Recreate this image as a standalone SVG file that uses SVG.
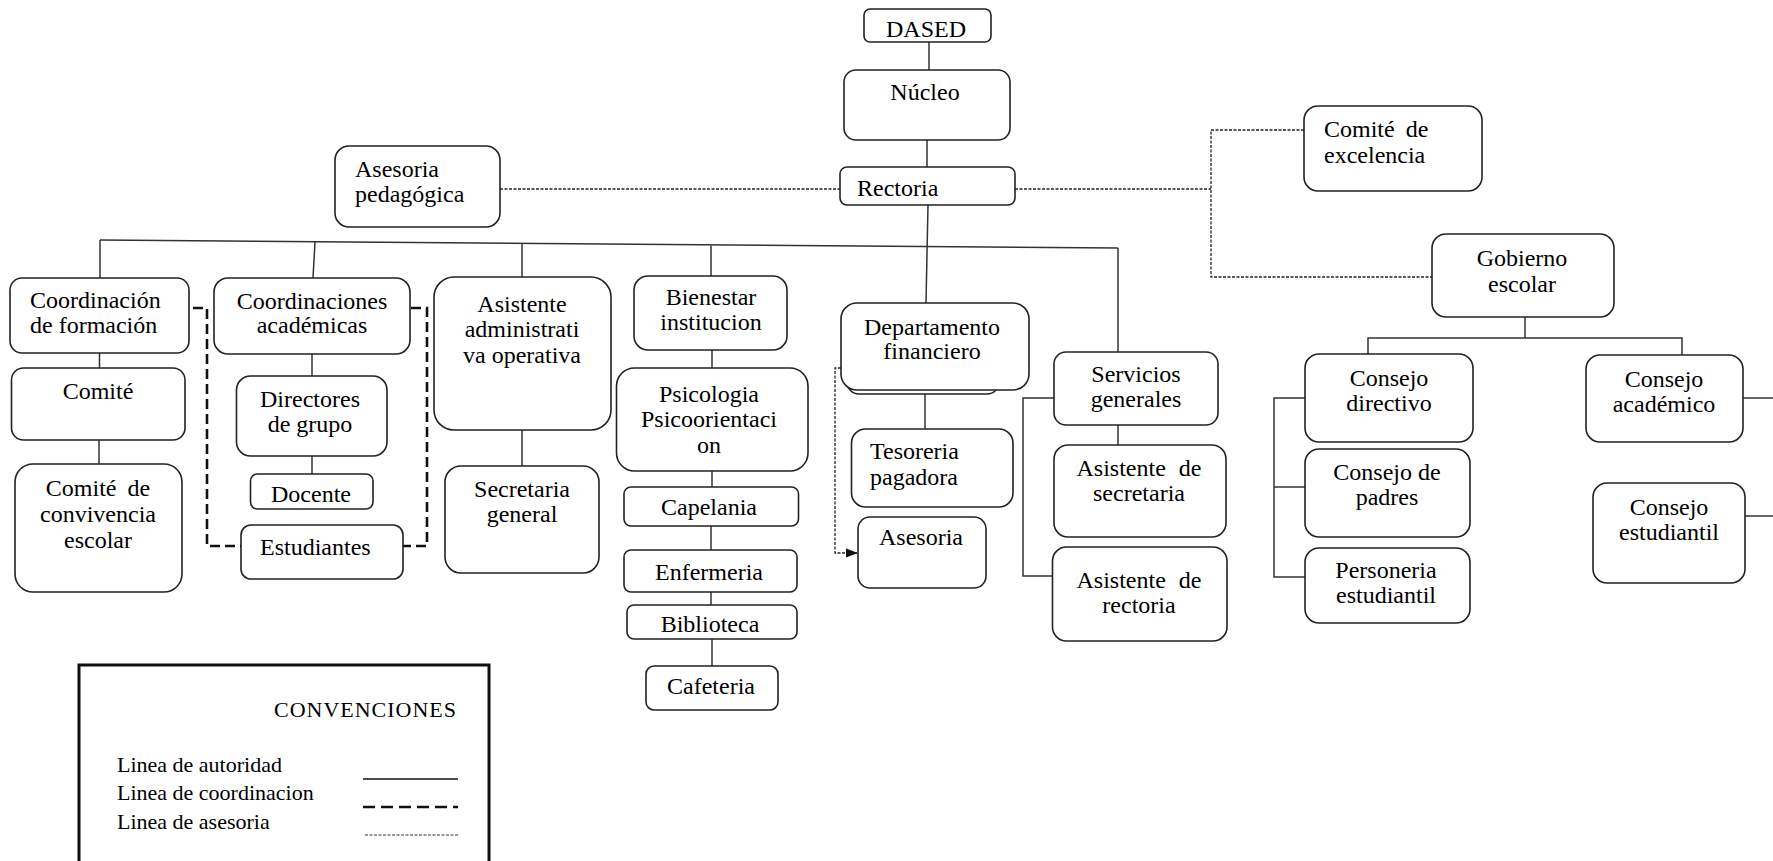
<svg xmlns="http://www.w3.org/2000/svg" width="1773" height="861" viewBox="0 0 1773 861">
<defs>
<style>
.n{fill:#fff;stroke:#222;stroke-width:1.6}
.t{font-family:"Liberation Serif","Times New Roman",serif;font-size:24px;fill:#000}
.m{text-anchor:middle}
.s{fill:none;stroke:#333;stroke-width:1.5}
.a{fill:none;stroke:#222;stroke-width:1.3;stroke-dasharray:3 1.5}
.c{fill:none;stroke:#111;stroke-width:2.6;stroke-dasharray:10 5}
.lg{font-family:"Liberation Serif","Times New Roman",serif;font-size:22px;fill:#000}
</style>
<marker id="arr" markerWidth="12" markerHeight="12" refX="11" refY="6" orient="auto" markerUnits="userSpaceOnUse">
<path d="M0,1.5 L12,6 L0,10.5 Z" fill="#111"/>
</marker>
</defs>
<rect width="1773" height="861" fill="#fff"/>

<g id="connectors">
<line class="s" x1="100" y1="240" x2="1118" y2="248"/>
<line class="s" x1="100" y1="240" x2="100" y2="278"/>
<line class="s" x1="315" y1="242" x2="313" y2="278"/>
<line class="s" x1="522" y1="244" x2="522" y2="277"/>
<line class="s" x1="711" y1="245.5" x2="711" y2="276"/>
<line class="s" x1="929" y1="42" x2="929" y2="70"/>
<line class="s" x1="927" y1="140" x2="927" y2="167"/>
<line class="s" x1="928" y1="205" x2="926" y2="303"/>
<line class="s" x1="1118" y1="248" x2="1118" y2="352"/>
<path class="a" d="M500,189 H840"/>
<path class="a" d="M1015,189 H1211"/>
<path class="a" d="M1304,130 H1211 V277 H1432"/>
<line class="s" x1="1525" y1="317" x2="1525" y2="338"/>
<path class="s" d="M1368,354 V338 H1682 V355"/>
<line class="s" x1="1743" y1="398" x2="1773" y2="398"/>
<line class="s" x1="1745" y1="516" x2="1773" y2="516"/>
<path class="s" d="M1305,398 H1274 V577 H1305 M1274,487 H1305"/>
<line class="s" x1="99.5" y1="353" x2="99.5" y2="368"/>
<line class="s" x1="99" y1="440" x2="99" y2="464"/>
<line class="s" x1="312" y1="354" x2="312" y2="376"/>
<line class="s" x1="312" y1="456" x2="312" y2="474"/>
<line class="s" x1="522" y1="430" x2="522" y2="466"/>
<line class="s" x1="712" y1="350" x2="712" y2="368"/>
<line class="s" x1="712" y1="471" x2="712" y2="487"/>
<line class="s" x1="711" y1="526" x2="711" y2="550"/>
<line class="s" x1="711" y1="592" x2="711" y2="605"/>
<line class="s" x1="712" y1="639" x2="712" y2="666"/>
<line class="s" x1="925" y1="393" x2="925" y2="429"/>
<line class="s" x1="1118" y1="425" x2="1118" y2="445"/>
<path class="s" d="M1054,398 H1023 V576 H1052"/>
<path class="a" d="M841,368 H835 V553 H857" marker-end="url(#arr)"/>
<path class="c" d="M193,308 H207 V546 H241"/>
<path class="c" d="M411,308 H427 V546 H403"/>
</g>

<g id="dased"><rect class="n" x="864" y="9" width="127" height="33" rx="6"/><text class="t m" x="926" y="37">DASED</text></g>
<g id="nucleo"><rect class="n" x="844" y="70" width="166" height="70" rx="12"/><text class="t m" x="925" y="100">Núcleo</text></g>
<g id="asesoria-pedagogica"><rect class="n" x="335" y="146" width="165" height="81" rx="14"/><text class="t" x="355" y="177">Asesoria</text><text class="t" x="355" y="202">pedagógica</text></g>
<g id="rectoria"><rect class="n" x="840" y="167" width="175" height="38" rx="7"/><text class="t" x="857" y="196">Rectoria</text></g>
<g id="comite-excelencia"><rect class="n" x="1304" y="106" width="178" height="85" rx="14"/><text class="t" x="1324" y="137" style="word-spacing:5px">Comité de</text><text class="t" x="1324" y="163">excelencia</text></g>
<g id="gobierno-escolar"><rect class="n" x="1432" y="234" width="182" height="83" rx="14"/><text class="t m" x="1522" y="266">Gobierno</text><text class="t m" x="1522" y="292">escolar</text></g>

<g id="coord-formacion"><rect class="n" x="10" y="278" width="179" height="75" rx="12"/><text class="t" x="30" y="308">Coordinación</text><text class="t" x="30" y="333">de formación</text></g>
<g id="comite"><rect class="n" x="11.5" y="368" width="173.5" height="72" rx="12"/><text class="t m" x="98" y="399">Comité</text></g>
<g id="comite-convivencia"><rect class="n" x="15" y="464" width="167" height="128" rx="18"/><text class="t m" x="98" y="496" style="word-spacing:5px">Comité de</text><text class="t m" x="98" y="522">convivencia</text><text class="t m" x="98" y="548">escolar</text></g>

<g id="coord-academicas"><rect class="n" x="214" y="278" width="196" height="76" rx="14"/><text class="t m" x="312" y="309">Coordinaciones</text><text class="t m" x="312" y="333">académicas</text></g>
<g id="directores"><rect class="n" x="236.5" y="376" width="150.5" height="80" rx="14"/><text class="t m" x="310" y="407">Directores</text><text class="t m" x="310" y="432">de grupo</text></g>
<g id="docente"><rect class="n" x="250.5" y="474" width="122.5" height="35" rx="7"/><text class="t m" x="311" y="502">Docente</text></g>
<g id="estudiantes"><rect class="n" x="241" y="525" width="162" height="54" rx="10"/><text class="t" x="260" y="555">Estudiantes</text></g>

<g id="asistente-adm"><rect class="n" x="434" y="277" width="177" height="153" rx="20"/><text class="t m" x="522" y="312">Asistente</text><text class="t m" x="522" y="337">administrati</text><text class="t m" x="522" y="363">va operativa</text></g>
<g id="secretaria-general"><rect class="n" x="445" y="466" width="154" height="107" rx="16"/><text class="t m" x="522" y="497">Secretaria</text><text class="t m" x="522" y="522">general</text></g>

<g id="bienestar"><rect class="n" x="634" y="276" width="153" height="74" rx="14"/><text class="t m" x="711" y="305">Bienestar</text><text class="t m" x="711" y="330">institucion</text></g>
<g id="psicologia"><rect class="n" x="616.5" y="368" width="191.5" height="103" rx="18"/><text class="t m" x="709" y="402">Psicologia</text><text class="t m" x="709" y="427">Psicoorientaci</text><text class="t m" x="709" y="453">on</text></g>
<g id="capelania"><rect class="n" x="624" y="487" width="174.5" height="39" rx="7"/><text class="t m" x="709" y="515">Capelania</text></g>
<g id="enfermeria"><rect class="n" x="624" y="550" width="173" height="42" rx="7"/><text class="t m" x="709" y="580">Enfermeria</text></g>
<g id="biblioteca"><rect class="n" x="627" y="605" width="170" height="34" rx="7"/><text class="t m" x="710" y="632">Biblioteca</text></g>
<g id="cafeteria"><rect class="n" x="646" y="666" width="132" height="44" rx="8"/><text class="t m" x="711" y="694">Cafeteria</text></g>

<g id="depto-financiero"><rect class="n" x="847" y="320" width="152" height="74" rx="12"/><rect class="n" x="841" y="303" width="188" height="87" rx="16"/><text class="t m" x="932" y="335">Departamento</text><text class="t m" x="932" y="359">financiero</text></g>
<g id="tesoreria"><rect class="n" x="851.5" y="429" width="161.5" height="78" rx="14"/><text class="t" x="870" y="459">Tesoreria</text><text class="t" x="870" y="485">pagadora</text></g>
<g id="asesoria"><rect class="n" x="858" y="517" width="128" height="71" rx="12"/><text class="t m" x="921" y="545">Asesoria</text></g>

<g id="servicios-generales"><rect class="n" x="1054" y="352" width="164" height="73" rx="12"/><text class="t m" x="1136" y="382">Servicios</text><text class="t m" x="1136" y="407">generales</text></g>
<g id="asistente-secretaria"><rect class="n" x="1054" y="445" width="172" height="92" rx="14"/><text class="t m" x="1139" y="476" style="word-spacing:7px">Asistente de</text><text class="t m" x="1139" y="501">secretaria</text></g>
<g id="asistente-rectoria"><rect class="n" x="1052.5" y="547" width="174.5" height="94" rx="14"/><text class="t m" x="1139" y="588" style="word-spacing:7px">Asistente de</text><text class="t m" x="1139" y="613">rectoria</text></g>

<g id="consejo-directivo"><rect class="n" x="1305" y="354" width="168" height="88" rx="14"/><text class="t m" x="1389" y="386">Consejo</text><text class="t m" x="1389" y="411">directivo</text></g>
<g id="consejo-padres"><rect class="n" x="1305" y="449" width="165" height="88" rx="14"/><text class="t m" x="1387" y="480">Consejo de</text><text class="t m" x="1387" y="505">padres</text></g>
<g id="personeria"><rect class="n" x="1305" y="548" width="165" height="75" rx="14"/><text class="t m" x="1386" y="578">Personeria</text><text class="t m" x="1386" y="603">estudiantil</text></g>
<g id="consejo-academico"><rect class="n" x="1586" y="355" width="157" height="87" rx="14"/><text class="t m" x="1664" y="387">Consejo</text><text class="t m" x="1664" y="412">académico</text></g>
<g id="consejo-estudiantil"><rect class="n" x="1593" y="483" width="152" height="100" rx="14"/><text class="t m" x="1669" y="515">Consejo</text><text class="t m" x="1669" y="540">estudiantil</text></g>

<g id="convenciones">
<rect x="79" y="665" width="410" height="230" fill="#fff" stroke="#111" stroke-width="3"/>
<text class="lg" x="274" y="717" font-size="20" textLength="182" lengthAdjust="spacing">CONVENCIONES</text>
<text class="lg" x="117" y="772">Linea de autoridad</text>
<text class="lg" x="117" y="800">Linea de coordinacion</text>
<text class="lg" x="117" y="829">Linea de asesoria</text>
<line x1="363" y1="779" x2="458" y2="779" stroke="#111" stroke-width="1.5"/>
<line x1="363" y1="807" x2="458" y2="807" stroke="#111" stroke-width="2.6" stroke-dasharray="12 6"/>
<line x1="365" y1="835" x2="458" y2="835" stroke="#333" stroke-width="1.2" stroke-dasharray="3 1.5"/>
</g>
</svg>
